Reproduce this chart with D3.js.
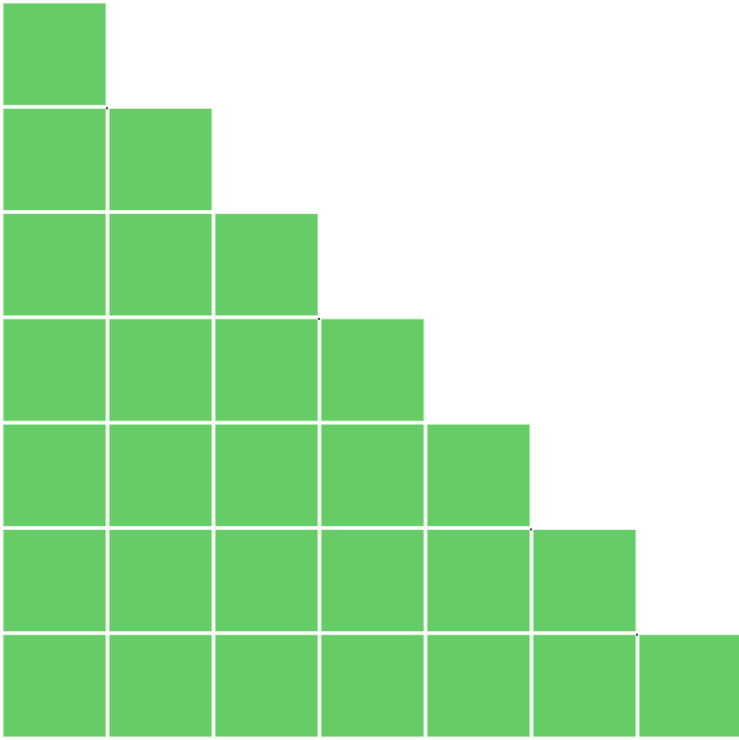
<!DOCTYPE html>
<html><head><meta charset="utf-8">
<script src="https://cdn.jsdelivr.net/npm/d3@7"></script>
<style>html,body{margin:0;padding:0;background:#fff;overflow:hidden}</style>
</head><body>
<svg id="c" width="739" height="740"></svg>
<script>
const rows = ["1","2","3","4","5","6","7"];
const columns = ["1","2","3","4","5","6","7"];
const rowCounts = [1,2,3,4,5,6,7];
const markerRows = [1,3,5,6];

const svg = d3.select("#c");
const x = d3.scaleBand().domain(columns).range([3, 742]).paddingInner(0.028).paddingOuter(0);
const y = d3.scaleBand().domain(rows).range([3, 737]).paddingInner(0.028).paddingOuter(0);

const cells = [];
rows.forEach((r, i) => {
  for (let j = 0; j < rowCounts[i]; j++) cells.push({row: r, col: columns[j]});
});

svg.selectAll("rect.cell").data(cells).join("rect")
  .attr("class","cell")
  .attr("x", d => x(d.col))
  .attr("y", d => y(d.row))
  .attr("width", x.bandwidth())
  .attr("height", y.bandwidth())
  .attr("fill", "#66cc66")
  .attr("stroke", "#e8f6e8")
  .attr("stroke-width", 1);

svg.selectAll("rect.mk").data(markerRows).join("rect")
  .attr("class","mk")
  .attr("x", i => x(columns[i]) - 3)
  .attr("y", i => y(rows[i]) - 1)
  .attr("width", 2).attr("height", 2)
  .attr("fill", "#444");
</script>
</body></html>
